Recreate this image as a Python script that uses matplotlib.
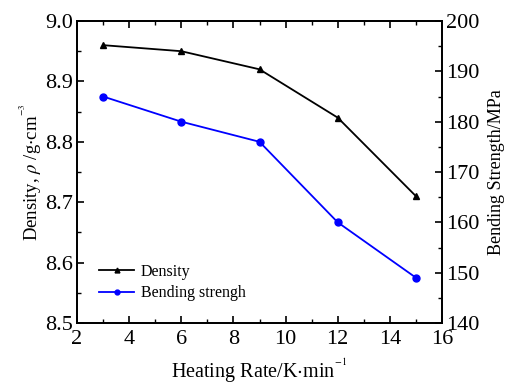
import matplotlib
matplotlib.use("Agg")
import matplotlib.pyplot as plt
from matplotlib.ticker import MultipleLocator

heating_rate = [3, 6, 9, 12, 15]
density = [8.96, 8.95, 8.92, 8.84, 8.71]
bending = [185, 180, 176, 160, 149]

plt.rcParams['font.family'] = ['Liberation Serif', 'DejaVu Serif']
plt.rcParams['mathtext.fontset'] = 'stix'

fig = plt.figure(figsize=(5.28, 3.87), dpi=100)
ax1 = fig.add_axes([77/528, 1 - 323/387, (442-77)/528, (323-21)/387])
ax2 = ax1.twinx()

l1, = ax1.plot(heating_rate, density, color='black', marker='^', markersize=5, lw=1.3, label='Density')
l2, = ax2.plot(heating_rate, bending, color='blue', marker='o', markersize=5, lw=1.3, label='Bending strengh')

ax1.set_xlim(2, 16)
ax1.set_ylim(8.5, 9.0)
ax2.set_ylim(140, 200)

ax1.xaxis.set_major_locator(MultipleLocator(2))
ax1.xaxis.set_minor_locator(MultipleLocator(1))
ax1.yaxis.set_major_locator(MultipleLocator(0.1))
ax1.yaxis.set_minor_locator(MultipleLocator(0.05))
ax2.yaxis.set_major_locator(MultipleLocator(10))
ax2.yaxis.set_minor_locator(MultipleLocator(5))

ax1.tick_params(axis='x', which='both', direction='in', top=True, labelsize=16, pad=5)
ax1.tick_params(axis='y', which='both', direction='in', labelsize=16, pad=3)
ax2.tick_params(axis='y', which='both', direction='in', labelsize=16, pad=3)
for ax in (ax1, ax2):
    ax.tick_params(which='major', length=5, width=1.2)
    ax.tick_params(which='minor', length=3, width=1.0)
    for s in ax.spines.values():
        s.set_linewidth(1.3)

ax1.set_xlabel('Heating Rate/K$\\cdot$min$^{^{-1}}$', fontsize=14.5, labelpad=6)
ax1.set_ylabel('Density, $\\rho$ /g$\\cdot$cm$^{^{-3}}$', fontsize=13.5, labelpad=1)
ax2.set_ylabel('Bending Strength/MPa', fontsize=13, labelpad=6)

ax1.legend([l1, l2], ['Density', 'Bending strengh'], loc='lower left',
           bbox_to_anchor=(0.03, 0.035), frameon=False, fontsize=11.5,
           handlelength=2.2, markerscale=0.7, labelspacing=0.35,
           handletextpad=0.4, borderaxespad=0.3)

fig.savefig('out.png', dpi=100)
